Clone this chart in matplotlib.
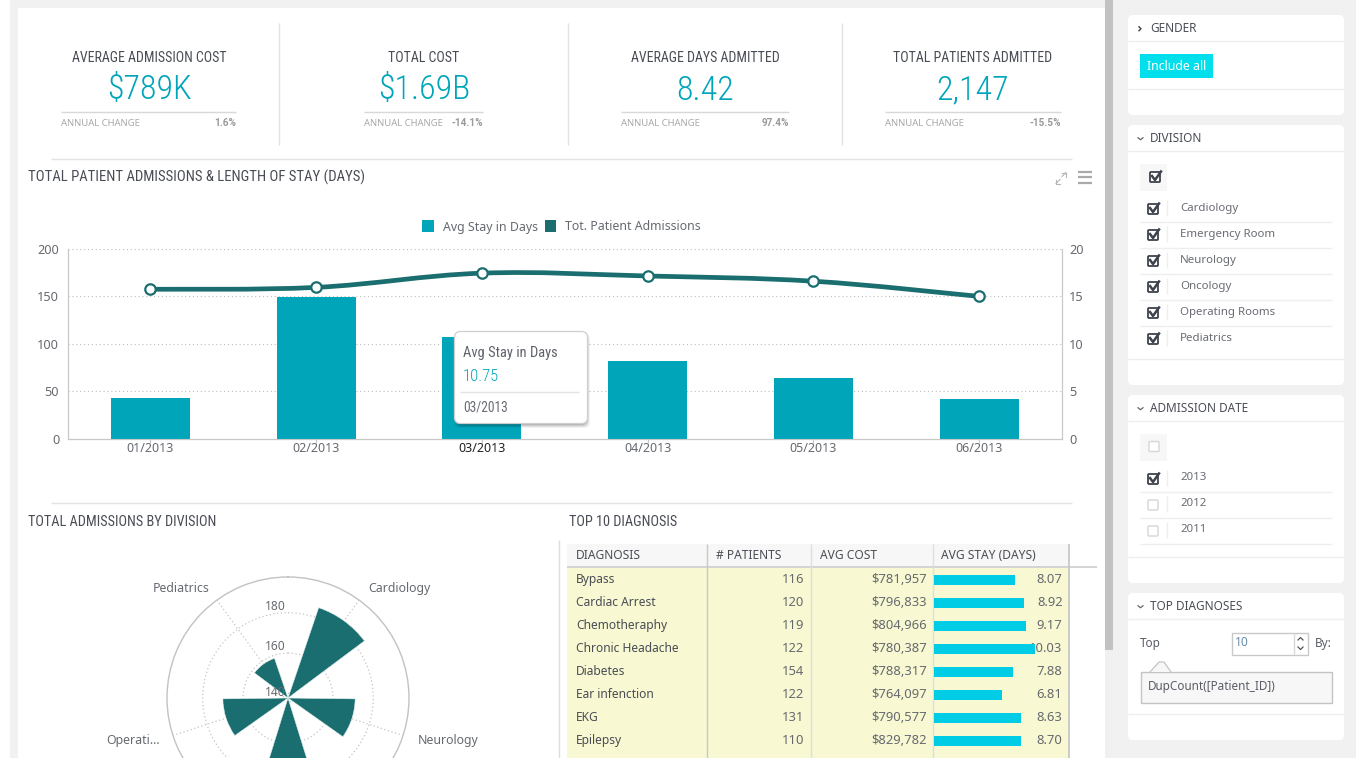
import matplotlib
matplotlib.use("Agg")
import numpy as np
import matplotlib.pyplot as plt
from matplotlib import font_manager as fm
from matplotlib.patches import Rectangle, FancyBboxPatch, PathPatch, Polygon
from matplotlib.path import Path

# ---------- data ----------
months = ["01/2013", "02/2013", "03/2013", "04/2013", "05/2013", "06/2013"]
avg_stay = [4.3, 14.9, 10.75, 8.2, 6.4, 4.2]
admissions = [157.5, 159.5, 174.5, 171.5, 166, 150]
left_ticks = [0, 50, 100, 150, 200]
right_ticks = [0, 5, 10, 15, 20]

kpi_titles = ["AVERAGE ADMISSION COST", "TOTAL COST", "AVERAGE DAYS ADMITTED", "TOTAL PATIENTS ADMITTED"]
kpi_values = ["$789K", "$1.69B", "8.42", "2,147"]
kpi_changes = ["1.6%", "-14.1%", "97.4%", "-15.5%"]

division_angles = [36, 108, 180, 252, 324]
division_names = ["Cardiology", "Neurology", "", "Operati...", "Pediatrics"]
division_values = [185, 171, 172, 170, 158.5]
ring_ticks = [140, 160, 180]

diagnoses = ["Bypass", "Cardiac Arrest", "Chemotheraphy", "Chronic Headache", "Diabetes", "Ear infenction", "EKG", "Epilepsy"]
patients = [116, 120, 119, 122, 154, 122, 131, 110]
costs = ["$781,957", "$796,833", "$804,966", "$780,387", "$788,317", "$764,097", "$790,577", "$829,782"]
stays = [8.07, 8.92, 9.17, 10.03, 7.88, 6.81, 8.63, 8.70]
table_headers = ["DIAGNOSIS", "# PATIENTS", "AVG COST", "AVG STAY (DAYS)"]

division_filter = ["Cardiology", "Emergency Room", "Neurology", "Oncology", "Operating Rooms", "Pediatrics"]
year_filter = ["2013", "2012", "2011"]

# ---------- fonts ----------
def have(name):
    try:
        fm.findfont(name, fallback_to_default=False)
        return True
    except Exception:
        return False

HEAD = next((f for f in ["Liberation Sans Narrow", "Roboto Condensed", "Roboto"] if have(f)), "DejaVu Sans")
BODY = "Noto Sans"
NUM = "Roboto"
HEAD_SCALE = 1.0 if "Narrow" in HEAD or "Condensed" in HEAD else 0.82

TEAL = "#00a5ba"
DARK = "#1a6e70"
GREY = "#666a70"
TITLE = "#4a4d55"
LINE = "#e4e4e4"

W, H = 1366, 768
fig = plt.figure(figsize=(W / 100, H / 100), dpi=100, facecolor="white")


def px_axes(left, top, right, bottom, **kw):
    return fig.add_axes([left / W, 1 - bottom / H, (right - left) / W, (bottom - top) / H], **kw)


bg = px_axes(0, 0, W, H, zorder=0)
bg.set_xlim(0, W); bg.set_ylim(H, 0); bg.axis("off")
top = px_axes(0, 0, W, H, zorder=6)
top.set_xlim(0, W); top.set_ylim(H, 0); top.axis("off"); top.patch.set_alpha(0)


def T(x, y, s, px=12, color=GREY, ha="left", fam=BODY, ax=bg, **kw):
    return ax.text(x, y + 1, s, fontsize=px * 0.72, color=color, ha=ha, va="center", family=fam, **kw)


def HT(x, y, s, px=15, color=TITLE, ha="left", ax=bg, **kw):
    return T(x, y, s, px * HEAD_SCALE, color, ha, HEAD, ax, **kw)


def R(x0, y0, x1, y1, color, ax=bg, **kw):
    ax.add_patch(Rectangle((x0, y0), x1 - x0, y1 - y0, facecolor=color, edgecolor="none", **kw))


def HL(y, x0, x1, color=LINE, lw=1.0, ax=bg):
    ax.plot([x0, x1], [y - 0.5, y - 0.5], color=color, lw=lw, solid_capstyle="butt")


def VL(x, y0, y1, color=LINE, lw=1.0, ax=bg):
    ax.plot([x, x], [y0, y1], color=color, lw=lw, solid_capstyle="butt")


# ---------- page background ----------
R(10, 0, 1105, 8, "#f1f1f1")
R(10, 8, 18, H, "#f1f1f1")
R(1105, 0, 1113, 650, "#c2c2c2")
R(1105, 650, 1113, H, "#f0f0f0")
R(1113, 0, 1356, H, "#f1f1f1")

# ---------- KPI row ----------
kpi_centers = [149, 424, 705, 973]
kpi_rules = [(61, 236), (364, 483), (621, 789), (885, 1061)]
for x in (279, 568, 842):
    VL(x, 23, 145, "#e2e2e2")
for c, (a, b), title, val, chg in zip(kpi_centers, kpi_rules, kpi_titles, kpi_values, kpi_changes):
    HT(c, 56.5, title, 13.9, ha="center")
    HT(c, 89.5, val, 34, TEAL, "center", fontweight="light")
    HL(112.5, a, b, "#d8d8d8")
    T(a, 122.5, "ANNUAL CHANGE", 9.5, "#a8a8a8")
    T(b, 122.5, chg, 10, "#9a9a9a", "right", "Roboto", fontweight="bold")
HL(159.5, 51, 1072)
HL(503.5, 51, 1072)

# ---------- main chart ----------
HT(28, 176.5, "TOTAL PATIENT ADMISSIONS & LENGTH OF STAY (DAYS)", 14.7)
# expand / menu icons
for seg_x, seg_y in [([1056, 1060], [183.5, 179.5]), ([1056, 1056, 1060], [179.5, 183.5, 183.5]),
                     ([1062, 1066], [176.5, 172.5]), ([1062, 1066, 1066], [172.5, 172.5, 176.5])]:
    bg.plot(seg_x, seg_y, color="#b5b5b5", lw=0.8)
for y in (172, 177.5, 183):
    HL(y, 1078, 1092, "#aaaaaa", 1.6)
R(422, 220, 434, 232, TEAL)
T(443, 226, "Avg Stay in Days", 12.3)
R(545, 220, 556, 232, DARK)
T(565, 226, "Tot. Patient Admissions", 12.3)

ax_stay = px_axes(67.5, 249, 1062, 438.5, zorder=1)
ax_adm = ax_stay.twinx()
ax_adm.set_zorder(2)
ax_adm.patch.set_alpha(0)
ax_stay.patch.set_alpha(0)
xs = np.arange(len(months))
ax_stay.bar(xs, avg_stay, width=0.477, color=TEAL, zorder=3)
ax_stay.set_xlim(-0.5, 5.5)
ax_stay.set_ylim(0, 20)
ax_adm.set_ylim(0, 200)
ax_stay.yaxis.tick_right()
ax_adm.yaxis.tick_left()
ax_stay.set_yticks(right_ticks)
ax_adm.set_yticks(left_ticks)
ax_stay.set_xticks(xs, months)
for a in (ax_stay, ax_adm):
    a.spines["top"].set_visible(False)
    for s in ("left", "right", "bottom"):
        a.spines[s].set_color("#c8c8c8")
    a.tick_params(axis="y", length=0, labelcolor=GREY, labelsize=9.2, pad=6)
    for lab in a.get_yticklabels():
        lab.set_family(BODY)
ax_stay.tick_params(axis="y", pad=5)
ax_stay.tick_params(axis="x", length=3, color="#c8c8c8", labelcolor=GREY, labelsize=9.0, pad=-0.5)
for i, lab in enumerate(ax_stay.get_xticklabels()):
    lab.set_family(BODY)
    if i == 2:
        lab.set_color("#222222")
ax_stay.yaxis.grid(True, color="#bdbdbd", linestyle=(0, (1, 2.5)), lw=0.8, zorder=0)
ax_stay.set_axisbelow(True)

# smooth line through the admissions values
pts = np.column_stack([xs, admissions])
verts, codes = [pts[0]], [Path.MOVETO]
for i in range(len(pts) - 1):
    prev_p = pts[max(i - 1, 0)]
    next_p = pts[min(i + 2, len(pts) - 1)]
    verts += [pts[i] + (pts[i + 1] - prev_p) * 0.18, pts[i + 1] - (next_p - pts[i]) * 0.18, pts[i + 1]]
    codes += [Path.CURVE4] * 3
ax_adm.add_patch(PathPatch(Path(verts, codes), facecolor="none", edgecolor=DARK, lw=3.4, zorder=4))
ax_adm.plot(xs, admissions, ls="none", marker="o", ms=7.5, mfc="white", mec=DARK, mew=1.6, zorder=5)

# tooltip
for grow, alpha in ((4, 0.05), (3, 0.07), (2, 0.09), (1, 0.1)):
    top.add_patch(FancyBboxPatch((458 - grow, 335 - grow + 2), 130 + 2 * grow - 2, 89 + 2 * grow - 2,
                                 boxstyle="round,pad=0,rounding_size=6", fc="#000000", ec="none", alpha=alpha))
top.add_patch(FancyBboxPatch((454.5, 331.5), 133, 92, boxstyle="round,pad=0,rounding_size=6",
                             fc="white", ec="#cfcfcf", lw=0.9))
HT(463, 351.5, "Avg Stay in Days", 14.5, "#5f626b", ax=top)
HT(463, 375.5, "10.75", 16.5, TEAL, ax=top, fontweight="light")
HL(392.5, 460, 579, ax=top)
HT(463, 406.5, "03/2013", 13.5, "#6a6d74", ax=top)

# ---------- polar chart ----------
HT(28, 520.5, "TOTAL ADMISSIONS BY DIVISION", 14.3)
R_PX = 121
cx, cy = 288, 698
rmin, rmax = 137.7, 197.7
pol = fig.add_axes([(cx - R_PX) / W, 1 - (cy + R_PX) / H, 2 * R_PX / W, 2 * R_PX / H],
                   projection="polar", zorder=1)
pol.set_theta_zero_location("N")
pol.set_theta_direction(-1)
pol.set_ylim(rmin, rmax)
pol.bar(np.radians(division_angles), np.array(division_values) - rmin, width=np.radians(34.5),
        bottom=rmin, color=DARK, edgecolor="#e4eeee", lw=0.4, zorder=3)
pol.set_rticks(ring_ticks)
pol.set_yticklabels([])
pol.set_thetagrids(division_angles, [""] * len(division_angles))
pol.grid(True, color="#c4c4c4", linestyle=(0, (1, 2)), lw=0.9)
pol.spines["polar"].set_color("#c2c2c2")
pol.spines["polar"].set_linewidth(1.0)
pol.set_axisbelow(True)
for v, y in zip(ring_ticks, (691, 646, 606)):
    T(275, y, str(v), 12, "#666a70", "center", ax=top)
T(181, 587.5, "Pediatrics", 12.3, ha="center")
T(399, 587.5, "Cardiology", 12.3, ha="center")
T(133, 739.5, "Operati...", 12.3, ha="center")
T(448, 739.5, "Neurology", 12.3, ha="center")

# ---------- table ----------
HT(569, 520.5, "TOP 10 DIAGNOSIS", 14.3)
VL(559, 540, H, "#dddddd")
R(567, 544, 1069, 567, "#f7f7f7")
R(567, 568, 1069, H, "#f8f8d2")
HL(567.5, 567, 1097, "#cccccc", 1.2)
col_x = [567, 706.5, 811, 933, 1068.5]
for x, c, lw in zip(col_x[1:], ("#c8c8c8", "#dedede", "#dedede", "#c4c4c4"), (1, 1, 1, 1.2)):
    VL(x, 544, H, c, lw)
hdr_x = [576, 716, 820, 941]
for x, h in zip(hdr_x, table_headers):
    T(x, 554.5, h, 12, "#4a4d55")
row_y = [578.5 + 23 * i for i in range(len(diagnoses))]
for y, d, p, c, s in zip(row_y, diagnoses, patients, costs, stays):
    T(576, y, d, 12.0, "#4a4d55")
    T(804, y, str(p), 13, GREY, "right")
    T(927, y, c, 13, GREY, "right")
    T(1062.5, y, f"{s:.2f}", 13, GREY, "right")
ax_tb = px_axes(933.5, 568.5, 1068, 752.5, zorder=3)
ax_tb.axis("off")
ax_tb.barh(np.arange(len(stays)), stays, height=10 / 23, color="#00cce6")
ax_tb.set_xlim(0, 134.5 / 10.1)
ax_tb.set_ylim(len(stays) - 0.5, -0.5)

# ---------- sidebar ----------
def panel(y0, y1, title, div_y, bottom_y, x0=1128, x1=1344, collapsed=False):
    bg.add_patch(FancyBboxPatch((x0, y0), x1 - x0, y1 - y0, boxstyle="round,pad=0,rounding_size=5",
                                fc="white", ec="none"))
    HL(div_y, x0, x1, "#eeeeee")
    HL(bottom_y, x0, x1, "#eeeeee")
    T(1150, (y0 + div_y) / 2 - 1, title, 11.8, "#4a4d55")
    cy_ = (y0 + div_y) / 2 + 0.5
    if collapsed:
        bg.plot([1139, 1141, 1139], [cy_ - 2, cy_, cy_ + 2], color="#444444", lw=1)
    else:
        bg.plot([1138, 1140.5, 1143], [cy_ - 1, cy_ + 1, cy_ - 1], color="#666666", lw=0.9)


def check(x, y, on=True):
    col = "#3e424c" if on else "#d6d6d6"
    bg.add_patch(FancyBboxPatch((x - 5, y - 5), 10, 10, boxstyle="round,pad=0,rounding_size=1", fc="white",
                                ec=col, lw=1.3 if on else 1.0, zorder=3))
    if on:
        bg.plot([x - 3, x, x + 6], [y - 1, y + 3, y - 5.5], color=col, lw=1.8, zorder=4)


panel(15, 115, "GENDER", 41.5, 89.5, collapsed=True)
R(1140, 54, 1213, 78, "#00dfeb")
T(1176.5, 65, "Include all", 12.3, "white", "center")

panel(125, 385, "DIVISION", 151.5, 359.5)
R(1140, 164, 1167, 191, "#f7f7f7")
check(1155, 177)
for i, name in enumerate(division_filter):
    y = 207 + 26 * i
    check(1153, y + 2)
    VL(1166.5, y - 7, y + 9, "#eeeeee")
    T(1180, y + 0.5, name, 11.5, "#6a6d74")
    if i < len(division_filter) - 1:
        HL(y + 15.5, 1140, 1332, "#eeeeee")

panel(395, 583, "ADMISSION DATE", 421.5, 557.5)
R(1140, 434, 1167, 461, "#f7f7f7")
check(1154, 446.5, False)
for i, name in enumerate(year_filter):
    y = 477 + 26 * i
    check(1153, y + 2, i == 0)
    VL(1166.5, y - 7, y + 9, "#eeeeee")
    T(1180, y - 0.5, name, 11.5, "#6a6d74")
    HL(y + 15.5, 1140, 1332, "#eeeeee")

panel(593, 740, "TOP DIAGNOSES", 619.5, 714.5)
T(1140, 642, "Top", 11.8, "#5a5d66")
bg.add_patch(Rectangle((1231.5, 632.5), 76, 22, fc="white", ec="#c8c8c8", lw=1))
VL(1294, 633, 654, "#d8d8d8")
T(1235, 641, "10", 12, "#6a8aa8")
bg.plot([1298, 1300.5, 1303], [640, 637.5, 640], color="#555555", lw=0.9)
bg.plot([1298, 1300.5, 1303], [647, 649.5, 647], color="#555555", lw=0.9)
T(1315, 642, "By:", 11.8, "#5a5d66")
bg.add_patch(Rectangle((1140.5, 671.5), 191, 31, fc="#f7f7f7", ec="#c4c4c4", lw=1))
bg.add_patch(Polygon([(1150, 672), (1159, 662), (1164, 662), (1171, 672)], closed=True, fc="#f7f7f7", ec="none", zorder=3))
bg.plot([1150, 1159, 1164, 1171], [672, 662, 662, 672], color="#c4c4c4", lw=0.9, zorder=4)
T(1148, 685.5, "DupCount([Patient_ID])", 11.7, "#5a5d66", zorder=5)

# bottom of the screenshot
fig.add_artist(Rectangle((0, 0), 1, 10 / H, transform=fig.transFigure, fc="white", ec="none", zorder=100))

fig.savefig("out.png", dpi=100, facecolor="white")
